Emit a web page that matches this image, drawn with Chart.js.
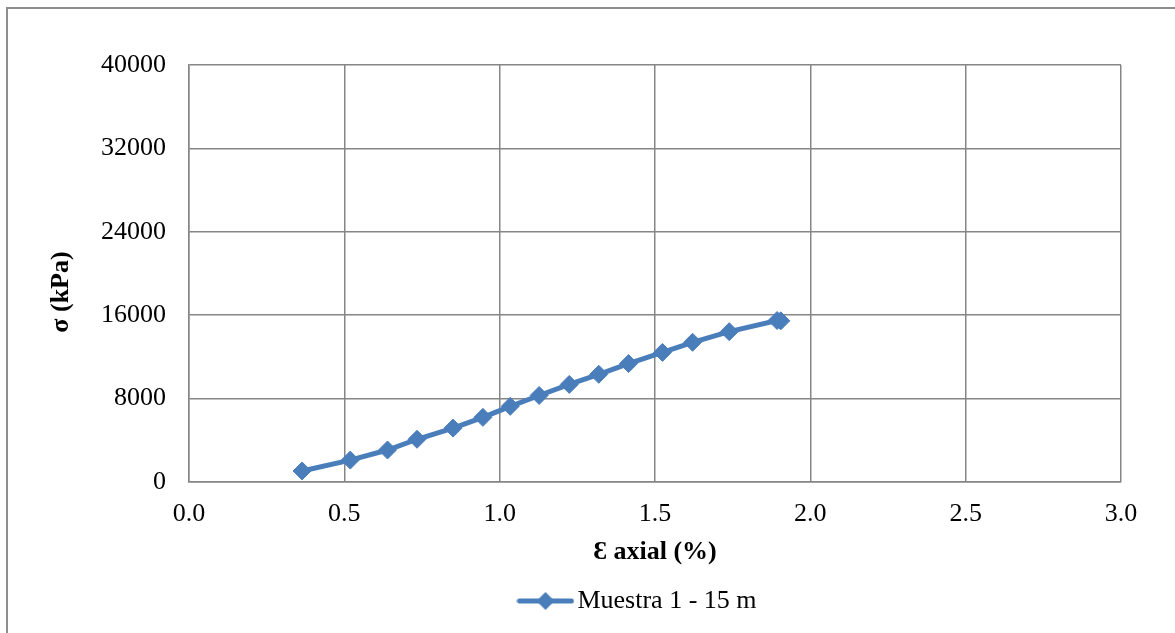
<!DOCTYPE html>
<html>
<head>
<meta charset="utf-8">
<script src="https://cdn.jsdelivr.net/npm/chart.js@4.4.1/dist/chart.umd.min.js"></script>
<style>
  html, body { margin: 0; padding: 0; background: #fff; overflow: hidden; }
  #wrap { position: relative; width: 1175px; height: 633px; }
  #frame { position: absolute; left: 6px; top: 7px; width: 1300px; height: 800px;
           border: 2px solid #8e8e8e; box-sizing: border-box; }
  #c { position: absolute; left: 0; top: 0; }
</style>
</head>
<body>
<div id="wrap">
  <div id="frame"></div>
  <canvas id="c" width="1175" height="633"></canvas>
</div>
<script>
// Axial strain (%) and deviator stress (kPa) for the sample
const strainPct = [0.364, 0.519, 0.639, 0.734, 0.850, 0.946, 1.034, 1.127, 1.224, 1.319, 1.415, 1.524, 1.621, 1.739, 1.893, 1.905];
const stressKPa = [1060, 2100, 3070, 4100, 5170, 6200, 7260, 8300, 9360, 10330, 11360, 12430, 13400, 14420, 15490, 15460];
const seriesName = 'Muestra 1 - 15 m';

// Axis ticks
const xTicks = [0.0, 0.5, 1.0, 1.5, 2.0, 2.5, 3.0];
const yTicks = [0, 8000, 16000, 24000, 32000, 40000];
const xTitle = 'Ɛ axial (%)';
const yTitle = 'σ (kPa)';

const BLUE = '#4a7ebb';
const GRID = '#868686';
const FONT = "'Liberation Serif', 'Times New Roman', serif";

// Legend swatch: a line with a diamond in the middle
const swatch = document.createElement('canvas');
swatch.width = 58; swatch.height = 22;
(function () {
  const g = swatch.getContext('2d');
  g.strokeStyle = BLUE; g.lineWidth = 5; g.lineCap = 'round';
  g.beginPath(); g.moveTo(3, 11); g.lineTo(55, 11); g.stroke();
  g.fillStyle = BLUE;
  g.beginPath(); g.moveTo(29, 2); g.lineTo(38, 11); g.lineTo(29, 20); g.lineTo(20, 11); g.closePath(); g.fill();
})();

const points = strainPct.map((x, i) => ({ x: x, y: stressKPa[i] }));

// Axis titles drawn at fixed spots around the plot
const axisTitles = {
  id: 'axisTitles',
  afterDraw(chart) {
    const ctx = chart.ctx;
    const area = chart.chartArea;
    ctx.save();
    ctx.fillStyle = '#000';
    ctx.font = 'bold 26px ' + FONT;
    ctx.textAlign = 'center';
    ctx.textBaseline = 'middle';
    ctx.fillText(xTitle, (area.left + area.right) / 2, 552);
    ctx.translate(61, 292);
    ctx.rotate(-Math.PI / 2);
    ctx.fillText(yTitle, 0, 0);
    ctx.restore();
  }
};

// Nudge the legend row to the right
const legendShift = {
  id: 'legendShift',
  afterLayout(chart) {
    if (chart.legend) { chart.legend.left += 81; chart.legend.right += 81; }
  }
};

new Chart(document.getElementById('c'), {
  type: 'line',
  data: {
    datasets: [{
      label: seriesName,
      data: points,
      borderColor: BLUE,
      backgroundColor: BLUE,
      borderWidth: 5,
      tension: 0,
      pointStyle: 'rectRot',
      pointRadius: 9,
      pointBorderWidth: 1,
      pointBorderColor: BLUE,
      pointBackgroundColor: BLUE,
      fill: false
    }]
  },
  options: {
    responsive: false,
    animation: false,
    devicePixelRatio: 1,
    layout: { padding: { left: 0, top: 65, right: 54, bottom: 9 } },
    scales: {
      x: {
        type: 'linear',
        min: 0, max: 3,
        afterBuildTicks(scale) { scale.ticks = xTicks.map(v => ({ value: v })); },
        afterFit(scale) { scale.height = 96; },
        ticks: {
          color: '#000',
          font: { family: FONT, size: 26 },
          padding: 17,
          maxRotation: 0,
          callback: v => Number(v).toFixed(1)
        },
        grid: { color: GRID, lineWidth: 1.5, drawTicks: false },
        border: { color: GRID, width: 1.5 }
      },
      y: {
        type: 'linear',
        min: 0, max: 40000,
        afterBuildTicks(scale) { scale.ticks = yTicks.map(v => ({ value: v })); },
        afterFit(scale) { scale.width = 189; },
        ticks: {
          color: '#000',
          font: { family: FONT, size: 26 },
          padding: 23,
          callback: v => String(v)
        },
        grid: { color: GRID, lineWidth: 1.5, drawTicks: false },
        border: { color: GRID, width: 1.5 }
      }
    },
    plugins: {
      legend: {
        display: true,
        position: 'bottom',
        labels: {
          color: '#000',
          font: { family: FONT, size: 26 },
          usePointStyle: true,
          pointStyleWidth: 38,
          padding: 10,
          generateLabels(chart) {
            return chart.data.datasets.map((ds, i) => ({
              text: ds.label,
              pointStyle: swatch,
              fillStyle: BLUE,
              strokeStyle: BLUE,
              lineWidth: 0,
              hidden: false,
              datasetIndex: i,
              fontColor: '#000'
            }));
          }
        }
      },
      tooltip: { enabled: false }
    }
  },
  plugins: [axisTitles, legendShift]
});
</script>
</body>
</html>
